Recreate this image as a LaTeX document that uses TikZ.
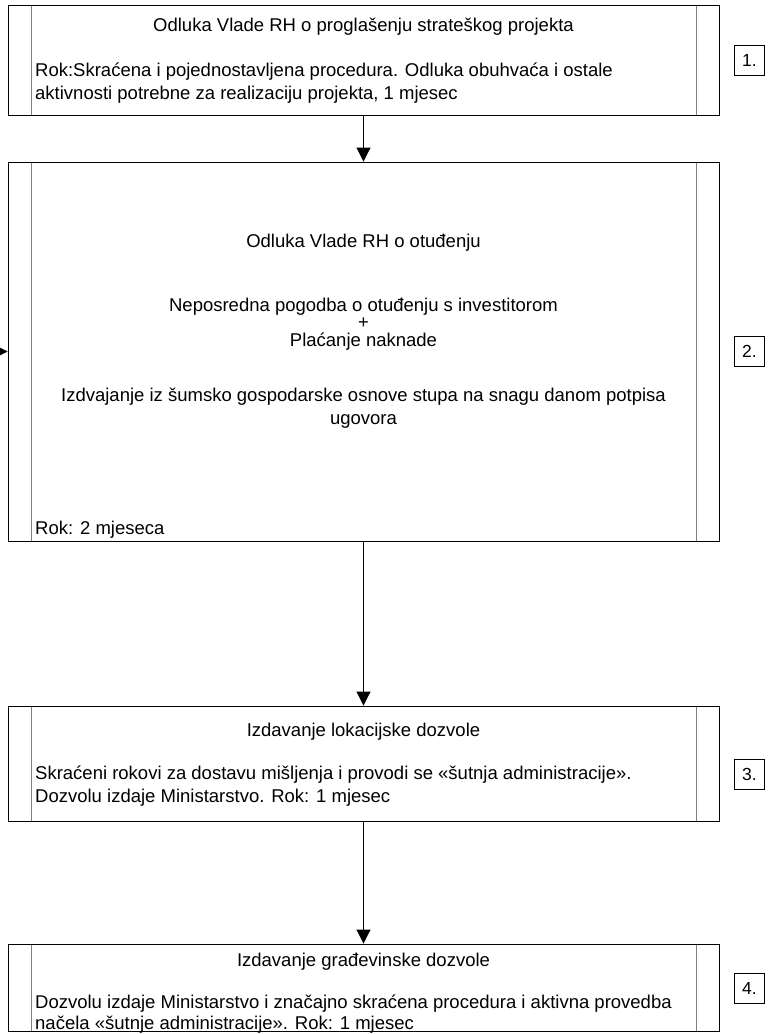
\documentclass[tikz,border=0pt]{standalone}
\usepackage{fontspec}
\setmainfont{Liberation Sans}
\usetikzlibrary{arrows.meta,positioning}

\tikzset{
  stepbox/.style={draw,line width=0.9pt,minimum width=711pt,inner sep=0pt,
    path picture={
      \draw[gray,line width=0.9pt] ([xshift=23pt]path picture bounding box.north west) -- ([xshift=23pt]path picture bounding box.south west);
      \draw[gray,line width=0.9pt] ([xshift=-23pt]path picture bounding box.north east) -- ([xshift=-23pt]path picture bounding box.south east);}},
  numbox/.style={draw,line width=0.9pt,minimum size=30pt,inner sep=0pt,font=\fontsize{17.5}{20}\selectfont},
  txt/.style={inner sep=0pt,font=\fontsize{18.5}{23}\selectfont},
  flow/.style={-{Triangle[length=14pt,width=14pt]},line width=0.9pt}
}

\begin{document}
\begin{tikzpicture}[x=1pt,y=-1pt]
\useasboundingbox (0,0) rectangle (772,1034);
% boxes
\node[stepbox,minimum height=110pt] (proj) at (363.5,60) {};
\node[stepbox,minimum height=379pt] (otud) at (363.5,351.5) {};
\node[stepbox,minimum height=115pt] (lok) at (363.5,763.5) {};
\node[stepbox,minimum height=87pt] (grad) at (363.5,987.5) {};
%
\node[txt] (projT) at (363.5,27) {Odluka Vlade RH o proglašenju strateškog projekta};
\node[txt,anchor=west,align=left] (projR) at (35,83) {Rok:Skraćena i pojednostavljena procedura. Odluka obuhvaća i ostale\\aktivnosti potrebne za realizaciju projekta, 1 mjesec};
%
\node[txt] (otudT) at (363.5,243) {Odluka Vlade RH o otuđenju};
\node[txt] (otudA) at (363.5,307) {Neposredna pogodba o otuđenju s investitorom};
\node[txt] (otudP) at (363.5,323) {+};
\node[txt] (otudB) at (363.5,342) {Plaćanje naknade};
\node[txt,align=center] (otudC) at (363.5,408) {Izdvajanje iz šumsko gospodarske osnove stupa na snagu danom potpisa\\ugovora};
\node[txt,anchor=west] (otudR) at (35,530) {Rok: 2 mjeseca};
%
\node[txt] (lokT) at (363.5,732) {Izdavanje lokacijske dozvole};
\node[txt,anchor=west,align=left] (lokR) at (35,786) {Skraćeni rokovi za dostavu mišljenja i provodi se «šutnja administracije».\\Dozvolu izdaje Ministarstvo. Rok: 1 mjesec};
%
\node[txt] (gradT) at (363.5,962) {Izdavanje građevinske dozvole};
\node[txt,anchor=west,align=left,font=\fontsize{18.5}{21.5}\selectfont] (gradR) at (35,1014) {Dozvolu izdaje Ministarstvo i značajno skraćena procedura i aktivna provedba\\načela «šutnje administracije». Rok: 1 mjesec};
% numbers
\node[numbox] (n1) at (749.5,60.5) {1.};
\node[numbox] (n2) at (749.5,351.5) {2.};
\node[numbox] (n3) at (749.5,774) {3.};
\node[numbox] (n4) at (749.5,988.5) {4.};
% arrows
\coordinate (ulaz) at (-20,351.5);
\draw[flow] (ulaz) -- (otud);
\draw[flow] (proj) -- (otud);
\draw[flow] (otud) -- (lok);
\draw[flow] (lok) -- (grad);
\end{tikzpicture}
\end{document}
